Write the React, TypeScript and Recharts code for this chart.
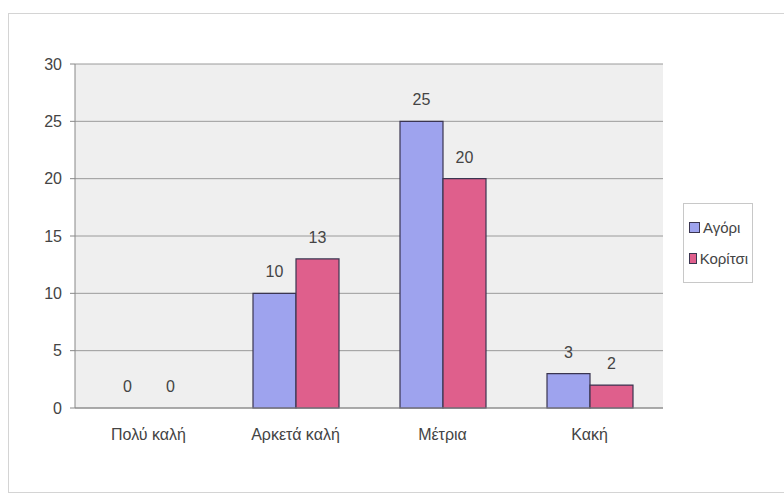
import { BarChart, Bar, XAxis, YAxis, CartesianGrid, LabelList, Rectangle } from "recharts";

const categories = ["Πολύ καλή", "Αρκετά καλή", "Μέτρια", "Κακή"];
const boys = [0, 10, 25, 3];
const girls = [0, 13, 20, 2];
const yTicks = [0, 5, 10, 15, 20, 25, 30];

const data = categories.map((c, i) => ({ name: c, boys: boys[i], girls: girls[i] }));

const BLUE = "#9ea3ee";
const RED = "#df5f8c";
const EDGE = "#3a3550";
const FONT = "'Liberation Sans', Arial, sans-serif";

function LegendBox() {
    const items = [
        { label: "Αγόρι", color: BLUE },
        { label: "Κορίτσι", color: RED },
    ];
    return (
        <div style={{ position: "absolute", left: 683, top: 203, width: 70, height: 80, boxSizing: "border-box", border: "1px solid #c8c8c8", background: "#fff", padding: "8px 4px 8px 5px", fontFamily: FONT, fontSize: 15, color: "#444" }}>
            {items.map((it) => (
                <div key={it.label} style={{ display: "flex", alignItems: "center", height: 31 }}>
                    <span style={{ width: 9, height: 9, background: it.color, border: `1px solid ${EDGE}`, marginRight: 3 }} />
                    <span>{it.label}</span>
                </div>
            ))}
        </div>
    );
}

// value labels, drawn for zero bars too
const valueLabel = (props: any) => {
    const { x, y, width, value } = props;
    return (
        <text x={x + width / 2} y={y - 16} textAnchor="middle" fill="#444" fontSize={16}>
            {value}
        </text>
    );
};

// zero-value bars keep a tiny min size so their labels exist, but draw nothing
const barShape = (props: any) => (props.height < 1 ? <g /> : <Rectangle {...props} />);

export default function App() {
    return (
        <div style={{ position: "absolute", left: 0, top: 0, width: 784, height: 499, background: "#fff" }}>
            <div style={{ position: "absolute", left: 8, top: 13, width: 790, height: 480, border: "1px solid #d4d4d4", boxSizing: "border-box" }} />
            <BarChart
                width={784}
                height={499}
                data={data}
                margin={{ top: 64, right: 121, left: 15, bottom: 61 }}
                barCategoryGap={31}
                barGap={0}
                style={{ fontFamily: FONT }}
            >
                <CartesianGrid vertical={false} stroke="#9a9a9a" fill="#efefef" />
                <XAxis
                    dataKey="name"
                    stroke="#888"
                    tick={{ fill: "#444", fontSize: 16 }}
                    tickLine={false}
                    tickMargin={15}
                />
                <YAxis
                    domain={[0, 30]}
                    ticks={yTicks}
                    stroke="#888"
                    width={60}
                    tick={{ fill: "#444", fontSize: 16 }}
                    tickSize={5}
                    tickMargin={8}
                />
                <YAxis yAxisId="r" orientation="right" width={0} tick={false} stroke="#aaa" domain={[0, 30]} />
                <Bar dataKey="boys" name="Αγόρι" fill={BLUE} stroke={EDGE} strokeWidth={1.2} minPointSize={0.5} shape={barShape} isAnimationActive={false}>
                    <LabelList dataKey="boys" content={valueLabel} />
                </Bar>
                <Bar dataKey="girls" name="Κορίτσι" fill={RED} stroke={EDGE} strokeWidth={1.2} minPointSize={0.5} shape={barShape} isAnimationActive={false}>
                    <LabelList dataKey="girls" content={valueLabel} />
                </Bar>
            </BarChart>
            <LegendBox />
        </div>
    );
}
